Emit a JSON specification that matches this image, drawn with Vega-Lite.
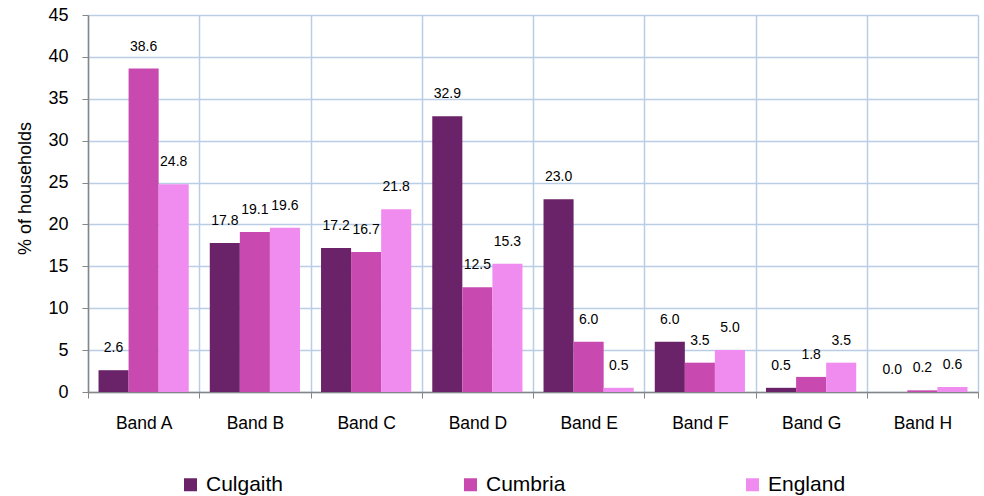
{
  "$schema": "https://vega.github.io/schema/vega-lite/v6.json",
  "autosize": {"type": "none"},
  "padding": {"left": 88, "top": 15, "right": 6, "bottom": 104},
  "width": 890,
  "height": 377,
  "background": "white",
  "config": {
    "font": "Liberation Sans",
    "view": {"stroke": null}
  },
  "data": {
    "values": [
      {"band": "Band A", "area": "Culgaith", "value": 2.6},
      {"band": "Band A", "area": "Cumbria", "value": 38.6},
      {"band": "Band A", "area": "England", "value": 24.8},
      {"band": "Band B", "area": "Culgaith", "value": 17.8},
      {"band": "Band B", "area": "Cumbria", "value": 19.1},
      {"band": "Band B", "area": "England", "value": 19.6},
      {"band": "Band C", "area": "Culgaith", "value": 17.2},
      {"band": "Band C", "area": "Cumbria", "value": 16.7},
      {"band": "Band C", "area": "England", "value": 21.8},
      {"band": "Band D", "area": "Culgaith", "value": 32.9},
      {"band": "Band D", "area": "Cumbria", "value": 12.5},
      {"band": "Band D", "area": "England", "value": 15.3},
      {"band": "Band E", "area": "Culgaith", "value": 23.0},
      {"band": "Band E", "area": "Cumbria", "value": 6.0},
      {"band": "Band E", "area": "England", "value": 0.5},
      {"band": "Band F", "area": "Culgaith", "value": 6.0},
      {"band": "Band F", "area": "Cumbria", "value": 3.5},
      {"band": "Band F", "area": "England", "value": 5.0},
      {"band": "Band G", "area": "Culgaith", "value": 0.5},
      {"band": "Band G", "area": "Cumbria", "value": 1.8},
      {"band": "Band G", "area": "England", "value": 3.5},
      {"band": "Band H", "area": "Culgaith", "value": 0.0},
      {"band": "Band H", "area": "Cumbria", "value": 0.2},
      {"band": "Band H", "area": "England", "value": 0.6}
    ]
  },
  "encoding": {
    "x": {
      "field": "band",
      "type": "nominal",
      "sort": null,
      "scale": {"paddingInner": 0, "paddingOuter": 0},
      "axis": {
        "title": null,
        "labelAngle": 0,
        "labelFontSize": 17.5,
        "labelColor": "#000000",
        "labelPadding": 16,
        "tickBand": "extent",
        "tickSize": 6,
        "tickColor": "#868686",
        "domainColor": "#868686",
        "domainWidth": 1.5,
        "grid": true,
        "gridColor": "#B9CDE5",
        "gridWidth": 1.5
      }
    },
    "xOffset": {
      "field": "area",
      "type": "nominal",
      "scale": {"paddingInner": 0, "paddingOuter": 0.35}
    },
    "y": {
      "field": "value",
      "type": "quantitative",
      "scale": {"domain": [0, 45], "nice": false},
      "axis": {
        "title": "% of households",
        "titleFontSize": 18,
        "titleFontWeight": "normal",
        "titleColor": "#000000",
        "titlePadding": 13,
        "titleY": 173,
        "values": [0, 5, 10, 15, 20, 25, 30, 35, 40, 45],
        "labelFontSize": 18,
        "labelColor": "#000000",
        "labelPadding": 14,
        "tickSize": 6,
        "tickColor": "#868686",
        "domainColor": "#868686",
        "domainWidth": 1.5,
        "grid": true,
        "gridColor": "#B9CDE5",
        "gridWidth": 1.5
      }
    }
  },
  "layer": [
    {
      "mark": {"type": "bar"},
      "encoding": {
        "color": {
          "field": "area",
          "type": "nominal",
          "scale": {
            "domain": ["Culgaith", "Cumbria", "England"],
            "range": ["#6A2269", "#C84AB0", "#F08CEF"]
          },
          "legend": {
            "title": null,
            "orient": "none",
            "direction": "horizontal",
            "legendX": 92,
            "legendY": 459,
            "symbolType": "square",
            "symbolSize": 169,
            "symbolStrokeWidth": 0,
            "labelFontSize": 21,
            "labelColor": "#000000",
            "labelOffset": 5,
            "columnPadding": 176
          }
        }
      }
    },
    {
      "mark": {"type": "text", "fontSize": 14, "color": "#000000", "baseline": "middle", "dy": -22},
      "encoding": {
        "text": {"field": "value", "type": "quantitative", "format": ".1f"}
      }
    }
  ]
}
